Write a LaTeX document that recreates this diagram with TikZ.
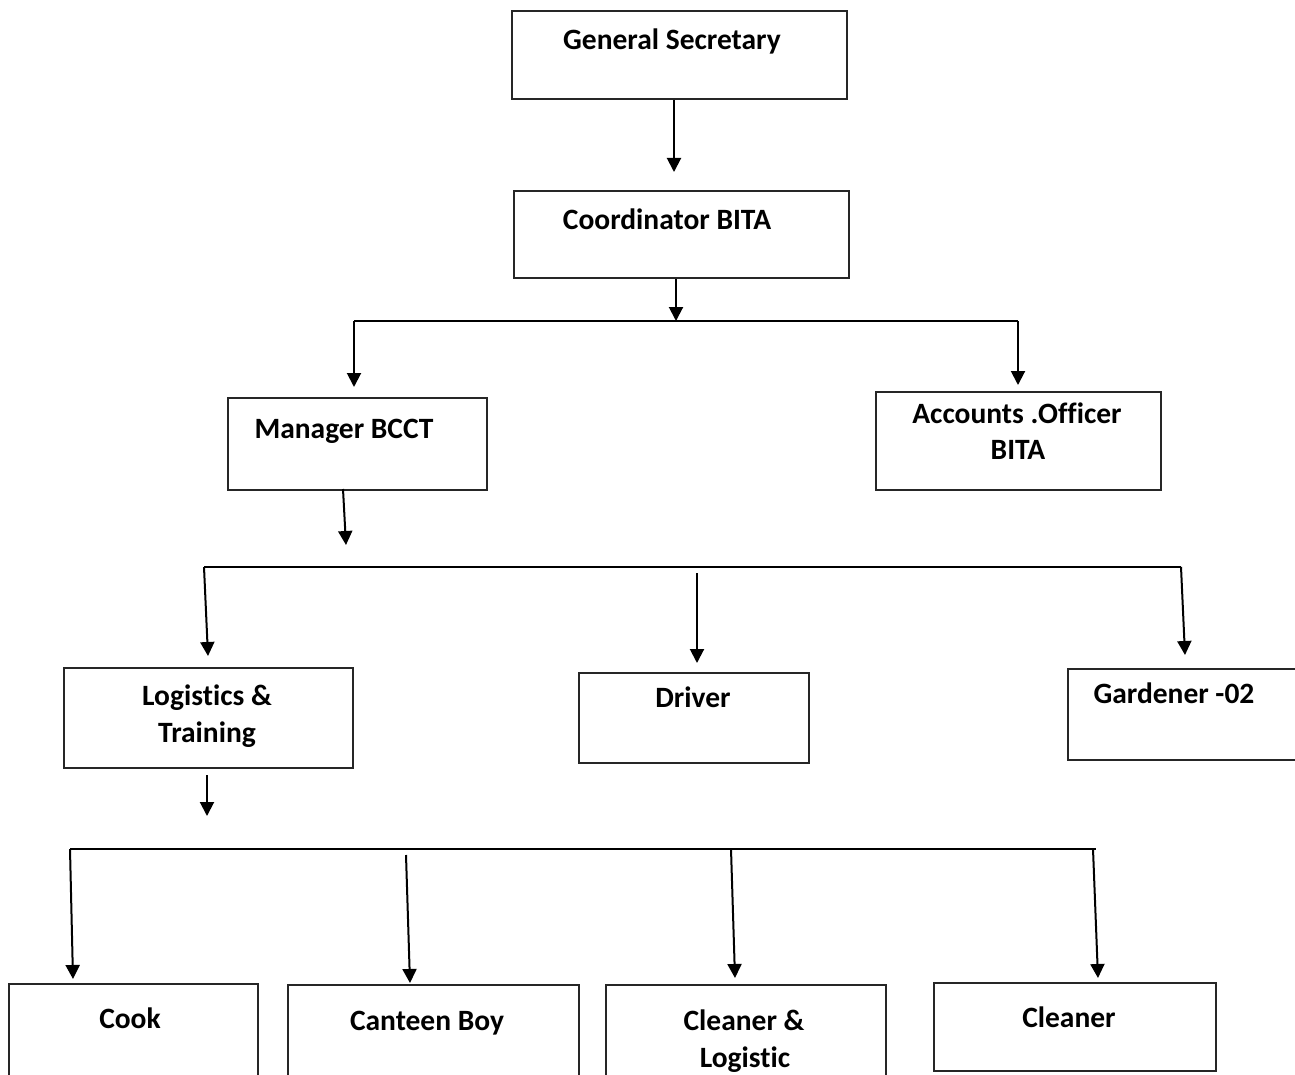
\documentclass[tikz,border=0pt]{standalone}
\usepackage{fontspec}
\setmainfont{Carlito}[Ligatures=NoCommon,RawFeature={-liga;-clig;-dlig}]
\usetikzlibrary{arrows.meta}
\begin{document}
\begin{tikzpicture}[x=1pt,y=-1pt,
  box/.style={draw=black!85,line width=2pt,rectangle,inner sep=0pt,anchor=north west},
  lbl/.style={font=\fontsize{29.5}{35}\selectfont\bfseries,anchor=base,inner sep=0pt},
  conn/.style={line width=2pt,black},
  arr/.style={conn,-{Triangle[width=14pt,length=14pt]}}]
\path[use as bounding box,clip] (0,0) rectangle (1295,1075);
\fill[white] (0,0) rectangle (1295,1075);
% boxes
\node[box,minimum width=335pt,minimum height=88pt] (gs) at (511,10) {};
\node[box,minimum width=335pt,minimum height=87pt] (co) at (513,190) {};
\node[box,minimum width=259pt,minimum height=92pt] (mg) at (227,397) {};
\node[box,minimum width=285pt,minimum height=98pt] (ac) at (875,391) {};
\node[box,minimum width=289pt,minimum height=100pt] (lt) at (63,667) {};
\node[box,minimum width=230pt,minimum height=90pt] (dr) at (578,672) {};
\node[box,minimum width=250pt,minimum height=91pt] (gd) at (1067,668) {};
\node[box,minimum width=249pt,minimum height=110pt] (ck) at (8,983) {};
\node[box,minimum width=291pt,minimum height=110pt] (cb) at (287,984) {};
\node[box,minimum width=280pt,minimum height=110pt] (cl) at (605,984) {};
\node[box,minimum width=282pt,minimum height=88pt] (cn) at (933,982) {};
% labels
\node[lbl] (gs-t) at (672,50) {General Secretary};
\node[lbl] (co-t) at (667,230) {Coordinator BITA};
\node[lbl] (mg-t) at (344,438) {Manager BCCT};
\node[lbl] (ac-t1) at (1017,423) {Accounts .Officer};
\node[lbl] (ac-t2) at (1018,459) {BITA};
\node[lbl] (lt-t1) at (207,705) {Logistics \&};
\node[lbl] (lt-t2) at (207,742) {Training};
\node[lbl] (dr-t) at (693,707) {Driver};
\node[lbl] (gd-t) at (1174,703) {Gardener -02};
\node[lbl] (ck-t) at (130,1028) {Cook};
\node[lbl] (cb-t) at (427,1030) {Canteen Boy};
\node[lbl] (cl-t1) at (744,1030) {Cleaner \&};
\node[lbl] (cl-t2) at (745,1067) {Logistic};
\node[lbl] (cn-t) at (1069,1027) {Cleaner};
% junction coordinates
\coordinate (t1) at (674,172);
\coordinate (j1) at (676,321);
\coordinate (b1l) at (354,321);
\coordinate (b1r) at (1018,321);
\coordinate (tmg) at (354,387);
\coordinate (tac) at (1018,385);
\coordinate (smg) at (343,489);
\coordinate (j2) at (346,545);
\coordinate (b2l) at (204,567);
\coordinate (b2r) at (1181,567);
\coordinate (tlt) at (208,656);
\coordinate (sdr) at (697,573);
\coordinate (tdr) at (697,663);
\coordinate (tgd) at (1185,655);
\coordinate (slt) at (207,775);
\coordinate (j3) at (207,816);
\coordinate (b3l) at (70,849);
\coordinate (b3r) at (1096,849);
\coordinate (tck) at (73,979);
\coordinate (scb) at (406,855);
\coordinate (tcb) at (410,983);
\coordinate (scl) at (731,849);
\coordinate (tcl) at (735,978);
\coordinate (scn) at (1093,849);
\coordinate (tcn) at (1098,978);
% connectors
\draw[arr] (gs.south -| t1) -- (t1);
\draw[arr] (co.south -| j1) -- (j1);
\draw[conn] (b1l) -- (b1r);
\draw[arr] (b1l) -- (tmg);
\draw[arr] (b1r) -- (tac);
\draw[arr] (smg) -- (j2);
\draw[conn] (b2l) -- (b2r);
\draw[arr] (b2l) -- (tlt);
\draw[arr] (sdr) -- (tdr);
\draw[arr] (b2r) -- (tgd);
\draw[arr] (slt) -- (j3);
\draw[conn] (b3l) -- (b3r);
\draw[arr] (b3l) -- (tck);
\draw[arr] (scb) -- (tcb);
\draw[arr] (scl) -- (tcl);
\draw[arr] (scn) -- (tcn);
\end{tikzpicture}
\end{document}
